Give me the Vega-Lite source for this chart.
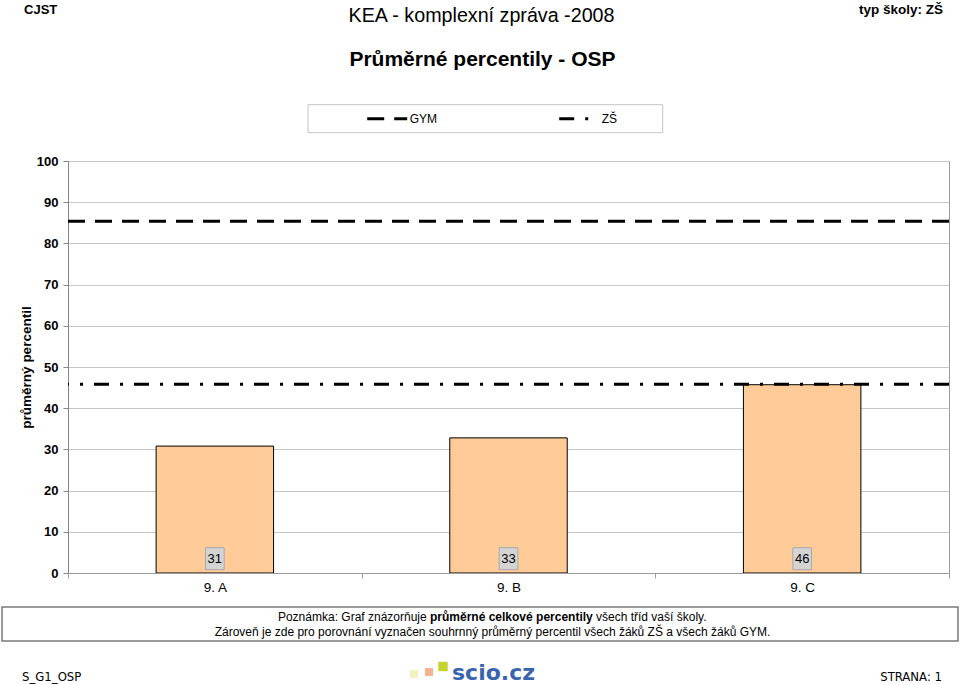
{
  "$schema": "https://vega.github.io/schema/vega-lite/v6.json",
  "width": 881,
  "height": 412,
  "autosize": {"type": "none"},
  "padding": {"left": 68, "top": 161, "right": 11, "bottom": 112},
  "background": "white",
  "config": {
    "font": "Liberation Sans",
    "view": {"stroke": "#9a9a9a", "strokeWidth": 1},
    "axis": {"labelFont": "Liberation Sans", "titleFont": "Liberation Sans"}
  },
  "datasets": {
    "tridy": [
      {"trida": "9. A", "percentil": 30.8},
      {"trida": "9. B", "percentil": 32.8},
      {"trida": "9. C", "percentil": 45.7}
    ],
    "prumery": [
      {"skupina": "GYM", "percentil": 85.4},
      {"skupina": "ZŠ", "percentil": 45.8}
    ]
  },
  "layer": [
    {
      "data": {"values": [{}]},
      "mark": {"type": "rect", "fill": "white", "stroke": "#c4c4c4", "strokeWidth": 1},
      "encoding": {
        "x": {"datum": "9. B", "bandPosition": -0.1828},
        "x2": {"datum": "9. B", "bandPosition": 1.0251},
        "y": {"datum": 113.67},
        "y2": {"datum": 106.87}
      }
    },
    {
      "data": {"values": [{}]},
      "mark": {"type": "rect", "fill": "white", "stroke": "#7a7a7a", "strokeWidth": 1.5},
      "encoding": {
        "x": {"datum": "9. B", "bandPosition": -1.2247},
        "x2": {"datum": "9. B", "bandPosition": 2.0306},
        "y": {"datum": -8.25},
        "y2": {"datum": -16.5}
      }
    },
    {
      "data": {"name": "tridy"},
      "mark": {"type": "bar", "fill": "#FFCC99", "stroke": "black", "strokeWidth": 1, "width": {"band": 0.4}},
      "encoding": {
        "x": {
          "field": "trida",
          "type": "nominal",
          "scale": {"domain": ["9. A", "9. B", "9. C"], "paddingInner": 0, "paddingOuter": 0},
          "axis": {
            "title": null,
            "labelAngle": 0,
            "labelAlign": "center",
            "labelFontSize": 13.5,
            "labelColor": "black",
            "labelPadding": 9,
            "tickBand": "extent",
            "tickSize": 5,
            "tickColor": "#9a9a9a",
            "domainColor": "#9a9a9a",
            "grid": false
          }
        },
        "y": {
          "field": "percentil",
          "type": "quantitative",
          "scale": {"domain": [0, 100], "nice": false},
          "axis": {
            "title": "průměrný percentil",
            "titleFontSize": 13.5,
            "titleFontWeight": "bold",
            "titleColor": "black",
            "titlePadding": 3,
            "values": [0, 10, 20, 30, 40, 50, 60, 70, 80, 90, 100],
            "labelFontSize": 13,
            "labelFontWeight": "bold",
            "labelColor": "black",
            "labelPadding": 5,
            "tickSize": 5,
            "tickColor": "#868686",
            "domainColor": "#868686",
            "grid": true,
            "gridColor": "#c6c6c6"
          }
        }
      }
    },
    {
      "data": {"name": "prumery"},
      "mark": {"type": "rule", "stroke": "black", "strokeWidth": 3},
      "encoding": {
        "y": {"field": "percentil", "type": "quantitative"},
        "strokeDash": {
          "field": "skupina",
          "type": "nominal",
          "scale": {"domain": ["GYM", "ZŠ"], "range": [[17, 10], [15, 11, 3, 11]]},
          "legend": {
            "title": null,
            "orient": "none",
            "legendX": 297.7,
            "legendY": -64,
            "direction": "horizontal",
            "symbolType": "stroke",
            "symbolSize": 1600,
            "symbolStrokeWidth": 3,
            "symbolStrokeColor": "black",
            "labelOffset": 1,
            "columnPadding": 115,
            "labelFontSize": 12,
            "labelFont": "Liberation Sans",
            "labelColor": "black",
            "padding": 0
          }
        }
      }
    },
    {
      "data": {"name": "tridy"},
      "mark": {"type": "point", "shape": "M-0.85,-1H0.85V1H-0.85Z", "size": 484, "filled": true, "fill": "#d4d4d4", "stroke": "#a8a8a8", "strokeWidth": 1, "opacity": 1},
      "encoding": {
        "x": {"field": "trida", "type": "nominal"},
        "y": {"datum": 3.47}
      }
    },
    {
      "data": {"name": "tridy"},
      "mark": {"type": "text", "fontSize": 13, "color": "black", "baseline": "middle"},
      "encoding": {
        "x": {"field": "trida", "type": "nominal"},
        "y": {"datum": 3.47},
        "text": {"field": "percentil", "type": "quantitative", "format": ".0f"}
      }
    },
    {
      "data": {"values": [{"popis": "CJST"}]},
      "mark": {"type": "text", "align": "left", "baseline": "alphabetic", "fontSize": 13, "fontWeight": "bold", "color": "black"},
      "encoding": {"x": {"datum": "9. B", "bandPosition": -1.1498}, "y": {"datum": 135.68}, "text": {"field": "popis"}}
    },
    {
      "data": {"values": [{"popis": "KEA - komplexní zpráva -2008"}]},
      "mark": {"type": "text", "align": "center", "baseline": "alphabetic", "fontSize": 19.7, "color": "black"},
      "encoding": {"x": {"datum": "9. B", "bandPosition": 0.4081}, "y": {"datum": 133.81}, "text": {"field": "popis"}}
    },
    {
      "data": {"values": [{"popis": "typ školy: ZŠ"}]},
      "mark": {"type": "text", "align": "right", "baseline": "alphabetic", "fontSize": 13.5, "fontWeight": "bold", "color": "black"},
      "encoding": {"x": {"datum": "9. B", "bandPosition": 1.9795}, "y": {"datum": 135.68}, "text": {"field": "popis"}}
    },
    {
      "data": {"values": [{"popis": "Průměrné percentily - OSP"}]},
      "mark": {"type": "text", "align": "center", "baseline": "alphabetic", "fontSize": 21, "fontWeight": "bold", "color": "black"},
      "encoding": {"x": {"datum": "9. B", "bandPosition": 0.4114}, "y": {"datum": 123.06}, "text": {"field": "popis"}}
    },
    {
      "data": {"values": [{"popis": "Poznámka: Graf znázorňuje"}]},
      "mark": {"type": "text", "align": "right", "baseline": "alphabetic", "fontSize": 12, "color": "black"},
      "encoding": {"x": {"datum": "9. B", "bandPosition": 0.2214}, "y": {"datum": -11.65}, "text": {"field": "popis"}}
    },
    {
      "data": {"values": [{"popis": "průměrné celkové percentily"}]},
      "mark": {"type": "text", "align": "left", "baseline": "alphabetic", "fontSize": 12, "fontWeight": "bold", "color": "black"},
      "encoding": {"x": {"datum": "9. B", "bandPosition": 0.2327}, "y": {"datum": -11.65}, "text": {"field": "popis"}}
    },
    {
      "data": {"values": [{"popis": "všech tříd vaší školy."}]},
      "mark": {"type": "text", "align": "left", "baseline": "alphabetic", "fontSize": 12, "color": "black"},
      "encoding": {"x": {"datum": "9. B", "bandPosition": 0.798}, "y": {"datum": -11.65}, "text": {"field": "popis"}}
    },
    {
      "data": {"values": [{"popis": "Zároveň je zde pro porovnání vyznačen souhrnný průměrný percentil všech žáků ZŠ a všech žáků GYM."}]},
      "mark": {"type": "text", "align": "center", "baseline": "alphabetic", "fontSize": 12, "color": "black"},
      "encoding": {"x": {"datum": "9. B", "bandPosition": 0.4455}, "y": {"datum": -15.29}, "text": {"field": "popis"}}
    },
    {
      "data": {"values": [{"popis": "S_G1_OSP"}]},
      "mark": {"type": "text", "align": "left", "baseline": "alphabetic", "fontSize": 13, "font": "Liberation Sans Narrow, DejaVu Sans Condensed, Liberation Sans", "color": "black"},
      "encoding": {"x": {"datum": "9. B", "bandPosition": -1.1566}, "y": {"datum": -26.2}, "text": {"field": "popis"}}
    },
    {
      "data": {"values": [{"popis": "STRANA: 1"}]},
      "mark": {"type": "text", "align": "right", "baseline": "alphabetic", "fontSize": 13, "font": "Liberation Sans Narrow, DejaVu Sans Condensed, Liberation Sans", "color": "black"},
      "encoding": {"x": {"datum": "9. B", "bandPosition": 1.9761}, "y": {"datum": -26.2}, "text": {"field": "popis"}}
    },
    {
      "data": {"values": [{"popis": "scio.cz"}]},
      "mark": {"type": "text", "align": "left", "baseline": "alphabetic", "fontSize": 22, "font": "DejaVu Sans", "fontWeight": "bold", "color": "#3a64ae"},
      "encoding": {"x": {"datum": "9. B", "bandPosition": 0.3076}, "y": {"datum": -25.85}, "text": {"field": "popis"}}
    },
    {
      "data": {"values": [{}]},
      "mark": {"type": "point", "shape": "square", "size": 64, "filled": true, "fill": "#f2f2bf", "strokeWidth": 0, "opacity": 1},
      "encoding": {"x": {"datum": "9. B", "bandPosition": 0.1782}, "y": {"datum": -24.51}}
    },
    {
      "data": {"values": [{}]},
      "mark": {"type": "point", "shape": "square", "size": 64, "filled": true, "fill": "#f5b48f", "strokeWidth": 0, "opacity": 1},
      "encoding": {"x": {"datum": "9. B", "bandPosition": 0.2293}, "y": {"datum": -24.03}}
    },
    {
      "data": {"values": [{}]},
      "mark": {"type": "point", "shape": "square", "size": 90, "filled": true, "fill": "#c5d430", "strokeWidth": 0, "opacity": 1},
      "encoding": {"x": {"datum": "9. B", "bandPosition": 0.277}, "y": {"datum": -22.69}}
    }
  ]
}
